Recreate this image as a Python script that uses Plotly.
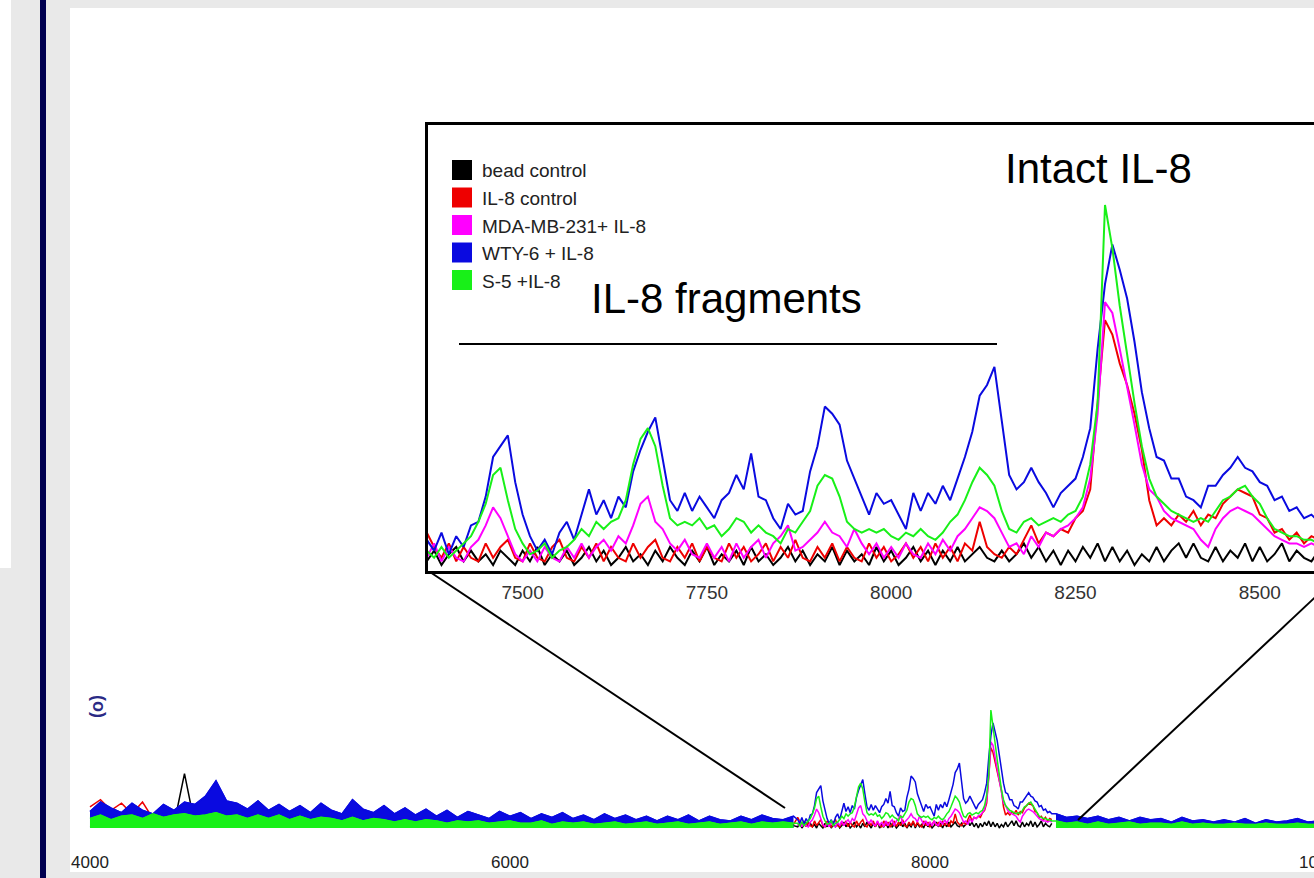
import numpy as np
import plotly.graph_objects as go

W, H = 1314, 878

# ---------------- data ----------------
series_names = ["bead control", "IL-8 control", "MDA-MB-231+ IL-8", "WTY-6 + IL-8", "S-5 +IL-8"]
series_colors = ["#000000", "#ee0000", "#ff00ff", "#0a0ae0", "#18f018"]

# zoomed region (m/z 7370 .. 8580, step 10)
inset_mass = np.arange(7370, 8581, 10)
bead = [1,4,0,3,5,1,4,1,3,0, 4,2,0,4,1,5,0,3,1,4, 0,2,5,1,4,0,2,5,1,3,
        0,4,1,5,2,0,4,1,5,0, 3,1,4,0,5,1,3,0,2,5, 1,4,0,3,1,5,0,4,1,3,
        0,5,1,4,0,2,5,1,4,0, 4,1,5,1,3,5,2,1,4,1, 3,6,2,5,1,4,0,4,1,5,
        2,6,1,5,1,4,0,3,1,5, 1,4,6,2,6,2,1,5,1,4, 2,6,1,5,1,3,6,1,4,2, 1,4]
il8 = [9,5,2,6,1,5,2,1,6,2, 5,7,2,1,6,2,1,5,7,2, 1,5,2,6,1,5,2,1,6,2,
       5,7,2,1,5,2,6,1,5,2, 1,6,2,5,1,3,6,1,5,2, 7,2,1,5,2,6,1,5,2,1,
       6,2,5,1,3,6,2,5,1,6, 2,5,1,6,4,12,5,3,2,5, 3,7,11,6,9,8,10,9,13,15,
       21,45,68,64,56,50,42,32,18,11, 13,11,14,12,15,11,14,13,17,19, 21,20,19,14,13,9,10,7,9,6, 8,7]
mda = [2,6,1,5,2,1,5,7,11,16, 13,8,3,1,4,1,5,2,1,5, 2,6,2,5,7,4,8,6,11,17,
       19,12,10,6,4,7,3,2,6,2, 5,1,6,2,5,7,2,6,8,11, 4,5,7,9,12,9,8,5,10,6,
       3,6,2,5,2,6,3,2,6,3, 7,4,8,10,13,16,15,13,9,5, 6,3,8,5,9,8,10,11,13,16,
       24,42,73,70,60,50,39,28,21,19, 15,13,12,11,10,7,5,10,13,15, 16,15,14,12,10,8,7,6,6,5, 6,5]
wty = [7,4,9,3,8,5,11,12,19,30, 33,36,23,14,8,4,7,3,9,12, 7,14,21,14,18,13,19,16,26,32,
       37,41,29,18,15,20,15,19,16,13, 18,20,25,21,31,19,18,13,10,17, 14,15,26,33,44,42,39,29,24,19,
       14,20,17,18,14,10,20,15,20,17, 22,18,24,30,37,47,50,55,40,25, 21,23,27,23,20,16,20,22,24,30,
       38,60,78,89,82,74,62,48,38,30, 29,24,24,19,18,16,22,22,25,27, 30,27,26,23,22,18,19,15,16,13, 14,12]
s5 = [4,2,5,2,4,6,8,12,17,25, 27,18,10,6,3,4,6,2,4,5, 7,10,8,12,10,12,13,18,28,35,
      38,33,22,13,11,12,11,13,10,11, 8,10,13,12,9,11,9,8,6,10, 9,12,15,22,25,24,19,12,10,9,
      10,9,10,8,7,9,8,10,8,7, 9,12,14,18,23,27,25,22,15,10, 9,12,13,11,12,13,12,14,15,19,
      28,45,100,88,72,58,45,33,24,19, 17,15,14,13,12,13,12,15,18,19, 21,22,19,17,13,10,9,8,8,7, 7,6]
inset_series = [bead, il8, mda, wty, s5]

# full spectrum outside the zoomed region (step 50)
left_mass = np.arange(4000, 7351, 50)
wty_left = [14,22,17,13,21,15,12,20,15,22, 20,27,40,23,21,16,23,15,20,14,
            19,13,21,15,12,24,16,13,19,12, 17,11,16,10,15,9,14,11,8,14,
            10,13,8,12,9,13,8,11,7,12, 8,11,7,10,6,10,7,11,6,10, 7,6,10,7,11,8,7,10]
s5_left = [8,11,7,10,11,8,12,9,11,12, 10,11,13,10,11,8,11,8,11,7,
           10,7,9,8,6,9,6,8,7,5, 7,5,7,6,4,6,5,6,4,5,
           6,4,4,6,3,5,4,5,3,4, 5,3,4,5,3,4,5,3,4,5, 3,4,5,3,5,4,5,4]
il8_left = [18,24,15,21,12,22,8,6,5,4, 5,4,3,4,3,4,3,3,4,3,
            2,3,4,3,2,3,3,4,2,3, 3,2,4,3,3,2,3,4,3,2,
            3,3,2,4,3,2,3,3,4,2, 3,3,2,3,4,3,2,3,3,2, 3,4,2,3,3,2,3,3]
bead_left = [2,1,2,3,2,1,2,2,3,46, 2,1,2,1,2,2,1,2,1,2,
             1,2,1,2,1,2,1,2,1,2, 1,2,1,2,1,2,1,2,1,2,
             1,2,1,2,1,2,1,2,1,2, 1,2,1,2,1,2,1,2,1,2, 1,2,1,2,1,2,1,2]
right_mass = np.arange(8600, 9851, 50)
wty_right = [12,9,10,8,10,7,9,6,9,7, 8,5,9,6,7,5,7,5,8,4, 7,5,6,8,5,6]
s5_right = [6,4,5,3,5,3,4,5,3,4, 4,3,5,3,4,3,3,4,3,3, 4,3,3,4,3,3]

main_ticks = [4000, 6000, 8000, 10000]
inset_ticks = [7500, 7750, 8000, 8250, 8500]

# ---------------- layout helpers ----------------
def px(x):
    return x / W

def py(y):
    return 1 - y / H

FONT = "Arial, Liberation Sans, sans-serif"
BLACK, RED, MAG, BLUE, GREEN = series_colors

main_range = [3904.8, 9828.6]
main_dom = [px(70), 1.0]

fig = go.Figure()

# main spectrum: continuous lines over the full mass range
full_left_mid = np.concatenate([left_mass, inset_mass])
full_all = np.concatenate([left_mass, inset_mass, right_mass])
main_lines = [
    (full_left_mid, bead_left + bead, BLACK),
    (full_left_mid, il8_left + il8, RED),
    (inset_mass, mda, MAG),
]
for xs, ys, c in main_lines:
    fig.add_trace(go.Scatter(x=xs, y=ys, mode="lines", line=dict(color=c, width=1.5),
                             xaxis="x", yaxis="y"))
# dense noise outside the zoom appears as solid bands
for xs, ys, c in [(left_mass, wty_left, BLUE), (left_mass, s5_left, GREEN),
                  (right_mass, wty_right, BLUE), (right_mass, s5_right, GREEN)]:
    fig.add_trace(go.Scatter(x=xs, y=ys, mode="lines", line=dict(color=c, width=1.2),
                             fill="tozeroy", fillcolor=c, xaxis="x", yaxis="y"))
for ys, c in [(wty_left + wty + wty_right, BLUE), (s5_left + s5 + s5_right, GREEN)]:
    fig.add_trace(go.Scatter(x=full_all, y=ys, mode="lines", line=dict(color=c, width=1.5),
                             xaxis="x", yaxis="y"))

# inset
for ys, c in zip(inset_series, series_colors):
    fig.add_trace(go.Scatter(x=inset_mass, y=ys, mode="lines", line=dict(color=c, width=2),
                             xaxis="x2", yaxis="y2"))

shapes = [
    dict(type="rect", xref="paper", yref="paper", x0=px(70), x1=1, y0=py(872), y1=py(8),
         fillcolor="white", line=dict(width=0), layer="below"),
    dict(type="rect", xref="paper", yref="paper", x0=0, x1=px(11), y0=py(568), y1=1,
         fillcolor="white", line=dict(width=0), layer="below"),
    dict(type="rect", xref="paper", yref="paper", x0=px(40), x1=px(46), y0=0, y1=1,
         fillcolor="#000050", line=dict(width=0), layer="below"),
    # line under "IL-8 fragments"
    dict(type="line", xref="paper", yref="paper", x0=px(459), x1=px(997), y0=py(344), y1=py(344),
         line=dict(color="black", width=2)),
    # connectors from zoom box to main spectrum
    dict(type="line", xref="paper", yref="paper", x0=px(430), y0=py(572), x1=px(785), y1=py(808),
         line=dict(color="black", width=2)),
    dict(type="line", xref="paper", yref="paper", x0=px(1343), y0=py(571), x1=px(1078), y1=py(820),
         line=dict(color="black", width=2)),
]

annotations = []
# custom legend (squares + labels)
for k, (name, c) in enumerate(zip(series_names, series_colors)):
    yc = 170 + 27.5 * k
    shapes.append(dict(type="rect", xref="paper", yref="paper", x0=px(452), x1=px(472),
                       y0=py(yc + 10), y1=py(yc - 10), fillcolor=c, line=dict(width=0)))
    annotations.append(dict(xref="paper", yref="paper", x=px(480), y=py(yc + 1), text=name,
                            showarrow=False, xanchor="left", yanchor="middle",
                            font=dict(family=FONT, size=19, color="#222222")))

annotations += [
    dict(xref="paper", yref="paper", x=px(1098), y=py(168), text="Intact IL-8", showarrow=False,
         xanchor="center", yanchor="middle", font=dict(family=FONT, size=42, color="black")),
    dict(xref="paper", yref="paper", x=px(726), y=py(299), text="IL-8 fragments", showarrow=False,
         xanchor="center", yanchor="middle", font=dict(family=FONT, size=42, color="black")),
    dict(xref="paper", yref="paper", x=px(99), y=py(706), text="<b>(o)</b>", showarrow=False,
         textangle=90, xanchor="center", yanchor="middle",
         font=dict(family=FONT, size=18, color="#2a2a85")),
    # last main tick label, cut off by the right edge of the picture
    dict(xref="paper", yref="paper", x=px(1297), y=py(862), text=str(main_ticks[-1]),
         showarrow=False, xanchor="left", yanchor="middle",
         font=dict(family=FONT, size=17, color="#222222")),
]

fig.update_layout(
    width=W, height=H, margin=dict(l=0, r=0, t=0, b=0),
    paper_bgcolor="#e9e9e9", plot_bgcolor="rgba(0,0,0,0)",
    showlegend=False, shapes=shapes, annotations=annotations,
    xaxis=dict(domain=main_dom, range=main_range, anchor="y",
               tickvals=main_ticks[:-1], ticks="", showline=False, showgrid=False, zeroline=False,
               tickfont=dict(family=FONT, size=17, color="#222222")),
    yaxis=dict(domain=[py(850), py(640)], range=[-18.64, 159.3], anchor="x", visible=False),
    xaxis2=dict(domain=[px(428), 1.0], range=[7371.7, 8573.5], anchor="y2",
                tickvals=inset_ticks, ticks="", showline=True, linewidth=2.5, linecolor="black",
                mirror=True, showgrid=False, zeroline=False, ticklabelstandoff=2,
                tickfont=dict(family=FONT, size=19, color="#333333")),
    yaxis2=dict(domain=[py(571), py(125)], range=[-1.667, 122.2], anchor="x2",
                showline=True, linewidth=2.5, linecolor="black", mirror=False,
                showticklabels=False, ticks="", showgrid=False, zeroline=False),
)

fig.write_html("out.html")
